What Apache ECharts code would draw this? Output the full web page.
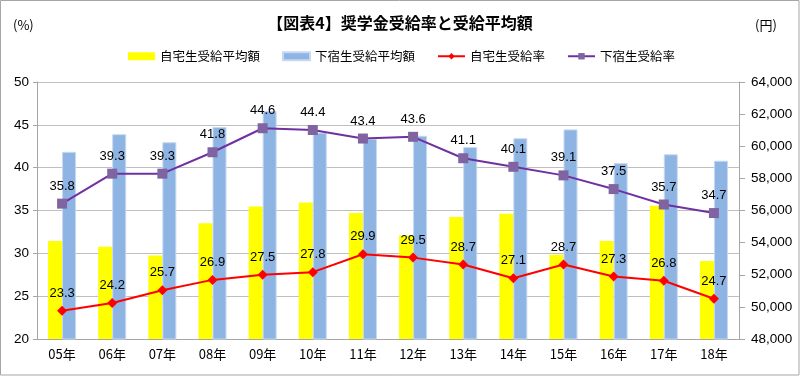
<!DOCTYPE html>
<html>
<head>
<meta charset="utf-8">
<script src="https://cdn.jsdelivr.net/npm/echarts@6/dist/echarts.min.js"></script>
<style>
  html, body { margin: 0; padding: 0; background: #fff; }
  #main { width: 800px; height: 376px; }
</style>
</head>
<body>
<div id="main"></div>
<script>
var myChart = echarts.init(document.getElementById('main'));

// 年度
const years = ['05年', '06年', '07年', '08年', '09年', '10年', '11年', '12年', '13年', '14年', '15年', '16年', '17年', '18年'];
// 受給平均額（円）
const homeAmount = [54100, 53750, 53200, 55200, 56250, 56500, 55850, 54450, 55600, 55800, 53250, 54100, 56300, 52850];
const dormAmount = [59650, 60750, 60250, 61200, 62200, 60850, 60450, 60650, 59950, 60500, 61050, 58950, 59500, 59100];
// 受給率（%）
const homeRate = [23.3, 24.2, 25.7, 26.9, 27.5, 27.8, 29.9, 29.5, 28.7, 27.1, 28.7, 27.3, 26.8, 24.7];
const dormRate = [35.8, 39.3, 39.3, 41.8, 44.6, 44.4, 43.4, 43.6, 41.1, 40.1, 39.1, 37.5, 35.7, 34.7];

const cjk = '"Noto Sans CJK JP", sans-serif';
const num = '"Liberation Sans", Arial, sans-serif';

const labelStyle = {
    show: true,
    position: 'top',
    distance: 6,
    color: '#000',
    fontFamily: num,
    fontSize: 13
};

option = {
    animation: false,
    title: {
        text: '【図表4】奨学金受給率と受給平均額',
        left: 'center',
        top: 10,
        textStyle: { fontFamily: cjk, fontSize: 16, fontWeight: 'bold', color: '#000' }
    },
    graphic: [
        { type: 'rect', shape: { x: 0.5, y: 0.5, width: 798.5, height: 374.5 }, style: { fill: null, stroke: '#a6a6a6', lineWidth: 1 } },
        { type: 'text', left: 13, top: 19, style: { text: '(%)', font: '13px "Noto Sans CJK JP"', fill: '#000' } },
        { type: 'text', left: 755, top: 19, style: { text: '(円)', font: '13px "Noto Sans CJK JP"', fill: '#000' } }
    ],
    legend: {
        left: 128,
        top: 50,
        padding: 0,
        itemWidth: 27,
        itemHeight: 8,
        itemGap: 22,
        textStyle: { fontFamily: cjk, fontSize: 12.5, color: '#000' },
        data: [
            { name: '自宅生受給平均額', icon: 'rect' },
            { name: '下宿生受給平均額', icon: 'rect' },
            { name: '自宅生受給率' },
            { name: '下宿生受給率' }
        ]
    },
    grid: { left: 37, right: 61, top: 82, bottom: 37 },
    xAxis: {
        type: 'category',
        data: years,
        axisLine: { lineStyle: { color: '#a6a6a6' } },
        axisTick: { length: 5, lineStyle: { color: '#a6a6a6' } },
        axisLabel: { color: '#000', fontFamily: cjk, fontSize: 13, margin: 9 }
    },
    yAxis: [{
        type: 'value',
        min: 20,
        max: 50,
        interval: 5,
        axisLine: { show: true, lineStyle: { color: '#a6a6a6' } },
        axisTick: { show: true, length: 4, lineStyle: { color: '#a6a6a6' } },
        axisLabel: { color: '#000', fontFamily: num, fontSize: 13.5, margin: 8 },
        splitLine: { lineStyle: { color: '#bfbfbf' } }
    }, {
        type: 'value',
        min: 48000,
        max: 64000,
        interval: 2000,
        axisLine: { show: true, lineStyle: { color: '#a6a6a6' } },
        axisTick: { show: true, length: 6, lineStyle: { color: '#a6a6a6' } },
        axisLabel: {
            color: '#000', fontFamily: num, fontSize: 13.5, margin: 12,
            formatter: function (v) { return v.toLocaleString('en-US'); }
        },
        splitLine: { show: false }
    }],
    series: [{
        name: '自宅生受給平均額',
        type: 'bar',
        yAxisIndex: 1,
        barWidth: 14,
        barGap: '0%',
        itemStyle: { color: '#ffff00' },
        data: homeAmount
    }, {
        name: '下宿生受給平均額',
        type: 'bar',
        yAxisIndex: 1,
        barWidth: 14,
        barGap: '0%',
        itemStyle: { color: '#8db4e2', borderColor: '#c6d9f1', borderWidth: 1 },
        data: dormAmount
    }, {
        name: '自宅生受給率',
        type: 'line',
        yAxisIndex: 0,
        symbol: 'diamond',
        symbolSize: 10,
        lineStyle: { color: '#ff0000', width: 2 },
        itemStyle: { color: '#ff0000' },
        label: labelStyle,
        data: homeRate,
        z: 5
    }, {
        name: '下宿生受給率',
        type: 'line',
        yAxisIndex: 0,
        symbol: 'rect',
        symbolSize: 10,
        lineStyle: { color: '#7030a0', width: 2 },
        itemStyle: { color: '#8064a2' },
        label: labelStyle,
        data: dormRate,
        z: 5
    }]
};

myChart.setOption(option);
</script>
</body>
</html>
